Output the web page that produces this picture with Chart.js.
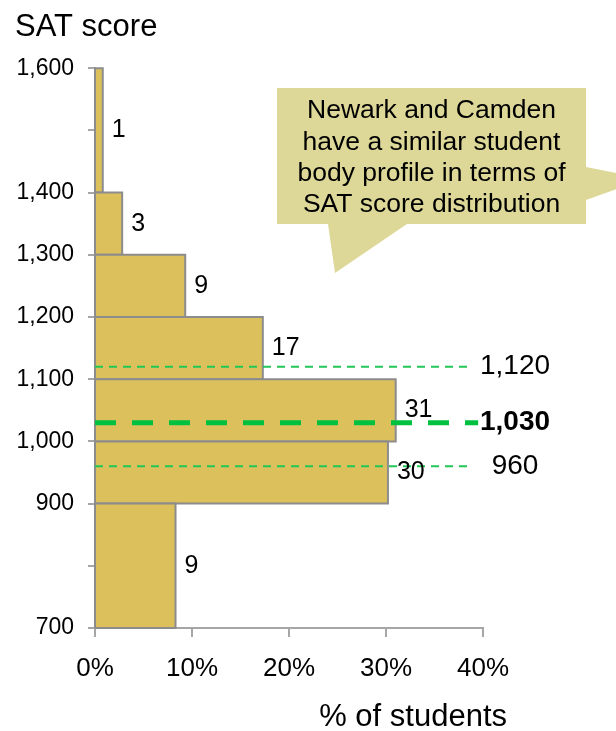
<!DOCTYPE html>
<html>
<head>
<meta charset="utf-8">
<script src="https://cdn.jsdelivr.net/npm/chart.js@4.4.1/dist/chart.umd.min.js"></script>
<style>
  html, body { margin: 0; padding: 0; background: #fff; }
  #wrap { width: 616px; height: 731px; position: relative; }
</style>
</head>
<body>
<div id="wrap"><canvas id="satChart"></canvas></div>
<script>
// SAT score bins and share of students in each
const binLow = [700, 900, 1000, 1100, 1200, 1300, 1400];
const binHigh = [900, 1000, 1100, 1200, 1300, 1400, 1600];
const binShare = [0.083, 0.302, 0.310, 0.173, 0.093, 0.028, 0.008];
const binLabels = ['9', '30', '31', '17', '9', '3', '1'];

// reference scores shown as dashed lines
const refScores = [1120, 1030, 960];
const refLabels = ['1,120', '1,030', '960'];

const yTickValues = [700, 900, 1000, 1100, 1200, 1300, 1400, 1600];

const calloutLines = [
  'Newark and Camden',
  'have a similar student',
  'body profile in terms of',
  'SAT score distribution'
];

const FONT = "'Liberation Sans', Arial, sans-serif";
const GOLD = '#DCC05C';
const EDGE = '#8C8C8C';
const AXIS = '#A6A6A6';
const GREEN = '#00C040';
const THIN_END = 0.384;   // where the dashed lines stop (x value)
const THICK_END = 0.395;

Chart.defaults.font.family = FONT;
Chart.defaults.color = '#000';

const fmt = v => String(v).replace(/\B(?=(\d{3})+(?!\d))/g, ',');

// dashed reference lines (drawn on top, so they go first)
const refDatasets = refScores.map((s, i) => {
  const main = i === 1;
  return {
    data: [{ x: 0, y: s }, { x: main ? THICK_END : THIN_END, y: s }],
    borderColor: main ? GREEN : '#22C657',
    borderWidth: main ? 5 : 2,
    borderDash: main ? [21, 16] : [8, 6],
    pointRadius: 0,
    fill: false,
    clip: false
  };
});

// one closed outline per bin, filled inside
const barDatasets = binLow.map((lo, i) => {
  const hi = binHigh[i];
  const v = binShare[i];
  return {
    data: [{ x: 0, y: lo }, { x: v, y: lo }, { x: v, y: hi }, { x: 0, y: hi }, { x: 0, y: lo }],
    borderColor: EDGE,
    borderWidth: 2,
    borderJoinStyle: 'miter',
    backgroundColor: GOLD,
    fill: 'shape',
    pointRadius: 0,
    clip: false
  };
});

const annotate = {
  id: 'annotate',
  afterDatasetsDraw(chart) {
    const { ctx, chartArea, scales: { x, y } } = chart;
    ctx.save();
    ctx.fillStyle = '#000';
    ctx.textBaseline = 'middle';

    // value labels next to the bars
    ctx.textAlign = 'left';
    ctx.font = `25px ${FONT}`;
    binLabels.forEach((t, i) => {
      ctx.fillText(t, x.getPixelForValue(binShare[i]) + 9, y.getPixelForValue((binLow[i] + binHigh[i]) / 2));
    });

    // labels for the dashed lines
    ctx.textAlign = 'center';
    refLabels.forEach((t, i) => {
      ctx.font = (i === 1 ? 'bold ' : '') + `28px ${FONT}`;
      ctx.fillText(t, chartArea.right + 32, y.getPixelForValue(refScores[i]));
    });

    // x axis title, right-aligned past the last tick
    ctx.textAlign = 'right';
    ctx.font = `31px ${FONT}`;
    ctx.fillText('% of students', chartArea.right + 24, 717);

    // callout bubble
    ctx.fillStyle = '#DDD898';
    ctx.beginPath();
    ctx.moveTo(277, 88);
    ctx.lineTo(586, 88);
    ctx.lineTo(586, 167);
    ctx.lineTo(645, 179);
    ctx.lineTo(586, 200);
    ctx.lineTo(586, 224);
    ctx.lineTo(407, 224);
    ctx.lineTo(335, 273);
    ctx.lineTo(328, 224);
    ctx.lineTo(277, 224);
    ctx.closePath();
    ctx.fill();

    ctx.fillStyle = '#000';
    ctx.textAlign = 'center';
    ctx.font = `26.5px ${FONT}`;
    calloutLines.forEach((t, i) => ctx.fillText(t, 431.5, 111 + i * 31.3));
    ctx.restore();
  }
};

new Chart(document.getElementById('satChart'), {
  type: 'line',
  data: { datasets: [...refDatasets, ...barDatasets] },
  options: {
    responsive: true,
    maintainAspectRatio: false,
    animation: false,
    events: [],
    layout: { padding: { left: 15, right: 133, top: 9, bottom: 0 } },
    plugins: {
      legend: { display: false },
      tooltip: { enabled: false },
      title: {
        display: true,
        text: 'SAT score',
        align: 'start',
        color: '#000',
        font: { size: 31, weight: 'normal' },
        padding: { top: 0, bottom: 22 }
      }
    },
    scales: {
      x: {
        type: 'linear',
        min: 0,
        max: 0.4,
        ticks: {
          stepSize: 0.1,
          callback: v => Math.round(v * 100) + '%',
          font: { size: 26 },
          color: '#000',
          padding: 16,
          maxRotation: 0
        },
        grid: { drawOnChartArea: false, tickLength: 9, color: AXIS, lineWidth: 2 },
        border: { color: AXIS, width: 2 },
        afterFit: s => { s.height = 103; }
      },
      y: {
        type: 'linear',
        min: 700,
        max: 1600,
        ticks: {
          stepSize: 100,
          callback: v => yTickValues.includes(v) ? fmt(v) : '',
          font: { size: 23 },
          color: '#000',
          padding: 14
        },
        grid: { drawOnChartArea: false, tickLength: 7, color: AXIS, lineWidth: 2 },
        border: { color: AXIS, width: 2 },
        afterFit: s => { s.width = 80; }
      }
    }
  },
  plugins: [annotate]
});
</script>
</body>
</html>
